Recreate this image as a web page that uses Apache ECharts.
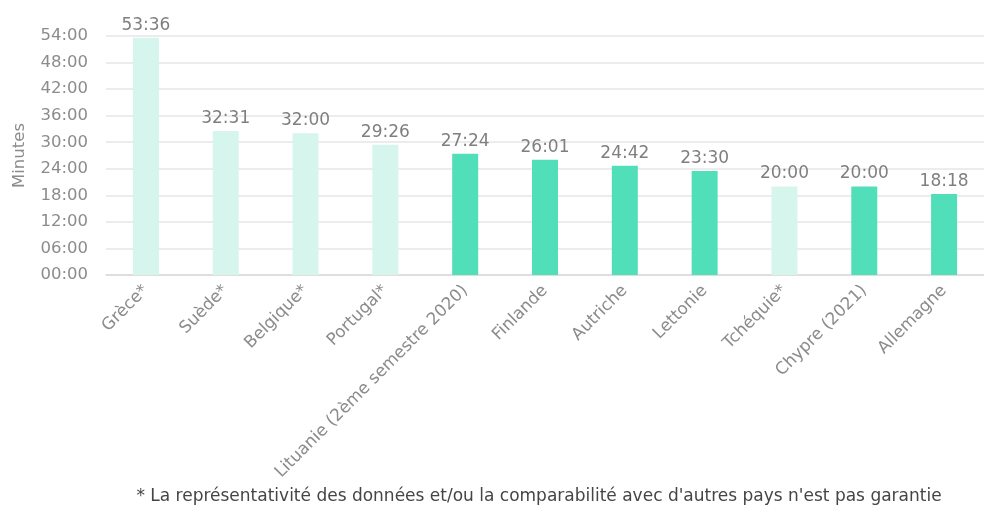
<!DOCTYPE html>
<html>
<head>
<meta charset="utf-8">
<script src="https://cdn.jsdelivr.net/npm/echarts@6/dist/echarts.min.js"></script>
<style>
html,body{margin:0;padding:0;background:#fff;overflow:hidden;}
#chart{width:984px;height:505px;}
</style>
</head>
<body>
<div id="chart"></div>
<script>
const categories = ["Grèce*", "Suède*", "Belgique*", "Portugal*", "Lituanie (2ème semestre 2020)", "Finlande", "Autriche", "Lettonie", "Tchéquie*", "Chypre (2021)", "Allemagne"];
const durations = ["53:36", "32:31", "32:00", "29:26", "27:24", "26:01", "24:42", "23:30", "20:00", "20:00", "18:18"];
const yTicks = [0, 6, 12, 18, 24, 30, 36, 42, 48, 54];
const footnote = "* La représentativité des données et/ou la comparabilité avec d'autres pays n'est pas garantie";

const toMinutes = s => { const [m, sec] = s.split(':').map(Number); return m + sec / 60; };
const fmt = v => { const m = Math.floor(v + 1e-6); const s = Math.round((v - m) * 60); return String(m).padStart(2, '0') + ':' + String(s).padStart(2, '0'); };

const LIGHT = '#d6f6ed', DARK = '#50dfb8';
const data = categories.map((c, i) => ({
  value: toMinutes(durations[i]),
  itemStyle: { color: c.includes('*') ? LIGHT : DARK }
}));

const chart = echarts.init(document.getElementById('chart'));
const FONT = "'DejaVu Sans', sans-serif";
chart.setOption({
  animation: false,
  textStyle: { fontFamily: FONT },
  grid: { left: 106, width: 890, top: 36, height: 239, containLabel: false },
  title: {
    text: footnote, left: 534, top: 483, textAlign: 'center',
    textStyle: { fontSize: 17, fontWeight: 'normal', color: '#454545', fontFamily: FONT }
  },
  xAxis: {
    type: 'category', data: categories,
    axisLine: { lineStyle: { color: '#d9d9d9', width: 1.5 } },
    axisTick: { show: false },
    axisLabel: { rotate: 45, color: '#8c8c8c', fontSize: 16.8, margin: 13, interval: 0, fontFamily: FONT }
  },
  yAxis: {
    type: 'value', min: yTicks[0], max: yTicks[yTicks.length - 1], interval: 6,
    name: 'Minutes', nameLocation: 'middle', nameGap: 78, nameRotate: 90,
    nameTextStyle: { color: '#8c8c8c', fontSize: 16.5, fontFamily: FONT },
    axisLine: { show: false }, axisTick: { show: false },
    axisLabel: { color: '#8c8c8c', fontSize: 16.5, margin: 18, fontFamily: FONT, formatter: v => fmt(v) },
    splitLine: { lineStyle: { color: '#e6e6e6', width: 1.5 } }
  },
  series: [{
    type: 'bar', data: data, barWidth: 26,
    label: { show: true, position: 'top', distance: 4, color: '#7f7f7f', fontSize: 17, fontFamily: FONT, formatter: p => durations[p.dataIndex] }
  }]
});
</script>
</body>
</html>
